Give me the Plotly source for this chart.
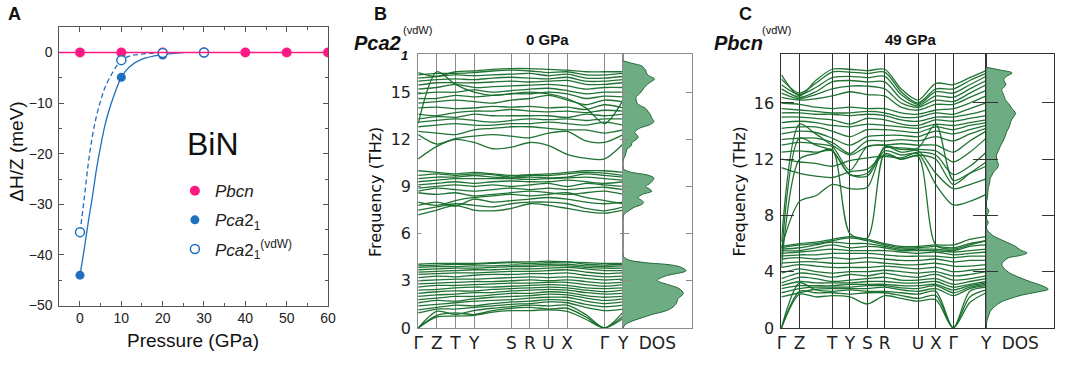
import plotly.graph_objects as go

W, H = 1065, 370

# ---------------- Panel A data ----------------
pressure_pbcn = [0, 10, 20, 30, 40, 50, 60]
dh_pbcn = [0, 0, 0, 0, 0, 0, 0]
pressure_pca = [0, 10, 20]
dh_pca = [-44.0, -4.9, -0.5]
pressure_vdw = [0, 10, 20, 30]
dh_vdw = [-35.5, -1.5, -0.1, 0.0]
fit_p_pca = [0, 1, 2, 3, 4, 5, 6, 7, 8, 10, 12, 15, 20, 25]
fit_dh_pca = [-44, -39, -33.5, -28.5, -23, -18.5, -14.5, -11.5, -9, -4.9, -2.8, -1.3, -0.4, 0]
fit_p_vdw = [0, 1, 2, 3, 4, 5, 6, 8, 10, 12, 15, 20]
fit_dh_vdw = [-35.5, -29, -22, -16.5, -12.5, -9.5, -7, -3.8, -1.5, -0.7, -0.3, 0]

# ---------------- Panel B data (Pca2_1 vdW, 0 GPa) ----------------
kB = [0, 1, 2, 3, 4, 5, 6, 7, 8, 9, 10, 11]
kB_tick_pos = [0, 1, 2, 3, 5, 6, 7, 8, 10, 11]
kB_tick_txt = ["Γ", "Z", "T", "Y", "S", "R", "U", "X", "Γ", "Y"]
bands_B = [
    [0, 0.7, 0.75, 0.8, 1.0, 1.1, 1.1, 1.15, 1.05, 0.55, 0, 0.6],
    [0, 0.8, 0.95, 0.85, 1.1, 1.25, 1.3, 1.2, 1.25, 0.7, 0, 0.75],
    [0, 1.05, 0.85, 1.1, 1.25, 1.35, 1.45, 1.4, 1.45, 0.85, 0, 1.0],
    [0.95, 1.2, 1.2, 1.3, 1.4, 1.5, 1.55, 1.65, 1.6, 1.3, 1.1, 1.2],
    [1.15, 1.3, 1.45, 1.4, 1.55, 1.65, 1.7, 1.8, 1.75, 1.5, 1.35, 1.45],
    [1.4, 1.5, 1.6, 1.7, 1.75, 1.8, 1.9, 1.95, 1.95, 1.7, 1.55, 1.65],
    [1.6, 1.75, 1.7, 1.85, 1.95, 2.0, 2.05, 2.15, 2.1, 1.9, 1.75, 1.85],
    [1.8, 1.9, 2.0, 2.0, 2.1, 2.2, 2.2, 2.3, 2.25, 2.05, 1.95, 2.0],
    [2.0, 2.1, 2.15, 2.25, 2.25, 2.35, 2.4, 2.45, 2.4, 2.25, 2.15, 2.2],
    [2.2, 2.3, 2.35, 2.35, 2.45, 2.5, 2.55, 2.6, 2.55, 2.4, 2.3, 2.4],
    [2.4, 2.45, 2.55, 2.6, 2.6, 2.65, 2.7, 2.75, 2.7, 2.55, 2.5, 2.55],
    [2.6, 2.7, 2.7, 2.75, 2.8, 2.85, 2.85, 2.9, 2.9, 2.75, 2.65, 2.75],
    [2.8, 2.85, 2.9, 2.95, 2.95, 3.0, 3.05, 3.0, 3.05, 2.95, 2.85, 2.9],
    [3.0, 3.05, 3.1, 3.1, 3.15, 3.2, 3.25, 3.2, 3.25, 3.15, 3.05, 3.1],
    [3.2, 3.3, 3.25, 3.35, 3.4, 3.4, 3.45, 3.45, 3.5, 3.35, 3.25, 3.3],
    [3.4, 3.45, 3.5, 3.5, 3.55, 3.6, 3.6, 3.65, 3.7, 3.55, 3.45, 3.5],
    [3.55, 3.6, 3.65, 3.7, 3.7, 3.75, 3.75, 3.8, 3.85, 3.75, 3.65, 3.65],
    [3.7, 3.75, 3.8, 3.8, 3.85, 3.9, 3.9, 3.95, 3.95, 3.85, 3.8, 3.8],
    [3.85, 3.9, 3.9, 3.95, 3.95, 4.0, 4.0, 4.05, 4.05, 3.95, 3.9, 3.95],
    [3.95, 4.0, 4.05, 4.05, 4.1, 4.15, 4.1, 4.15, 4.2, 4.05, 4.0, 4.05],
    [4.05, 4.1, 4.1, 4.1, 4.15, 4.2, 4.2, 4.25, 4.2, 4.15, 4.1, 4.1],
    [7.2, 7.5, 7.8, 7.5, 7.45, 7.6, 7.9, 7.8, 7.6, 7.4, 7.3, 7.5],
    [7.5, 7.7, 7.9, 7.8, 7.7, 7.9, 8.0, 8.0, 7.9, 7.6, 7.45, 7.7],
    [7.8, 8.0, 7.75, 8.2, 8.0, 8.1, 8.2, 8.3, 8.2, 8.0, 7.9, 8.0],
    [8.0, 7.8, 8.1, 8.3, 8.4, 8.5, 8.4, 8.5, 8.6, 8.3, 8.1, 7.9],
    [8.6, 8.5, 8.6, 8.4, 8.5, 8.6, 8.7, 8.6, 8.5, 8.6, 8.7, 8.5],
    [8.7, 8.9, 8.8, 8.7, 8.8, 8.9, 8.8, 8.9, 8.8, 8.9, 8.95, 8.8],
    [8.9, 9.0, 9.1, 9.0, 9.1, 9.0, 9.1, 9.2, 9.0, 9.2, 9.1, 9.0],
    [9.1, 9.2, 9.3, 9.2, 9.3, 9.35, 9.3, 9.3, 9.4, 9.3, 9.2, 9.3],
    [9.3, 9.4, 9.5, 9.5, 9.5, 9.5, 9.45, 9.5, 9.55, 9.6, 9.5, 9.4],
    [9.5, 9.6, 9.6, 9.7, 9.6, 9.55, 9.6, 9.55, 9.6, 9.8, 9.7, 9.6],
    [9.7, 9.8, 9.7, 9.8, 9.75, 9.6, 9.7, 9.7, 9.8, 9.9, 9.85, 9.7],
    [10.0, 9.9, 9.8, 9.9, 9.8, 9.7, 9.75, 9.8, 9.9, 10.0, 10.0, 9.9],
    [10.75, 11.55, 12.0, 11.8, 11.4, 11.5, 11.8, 11.6, 11.05, 10.8, 10.75, 11.7],
    [12.3, 11.7, 12.05, 12.2, 12.3, 12.2, 12.1, 12.4, 12.5, 11.9, 11.8, 12.3],
    [12.5, 12.4, 12.3, 12.6, 12.7, 12.8, 12.8, 12.7, 12.6, 12.6, 12.4, 12.6],
    [12.8, 12.9, 13.0, 12.9, 12.9, 13.0, 13.0, 13.1, 13.0, 12.9, 13.1, 12.9],
    [13.1, 13.2, 13.3, 13.2, 13.1, 13.2, 13.3, 13.25, 13.3, 13.2, 13.3, 13.3],
    [13.3, 13.45, 13.4, 13.6, 13.5, 13.5, 13.5, 13.5, 13.4, 13.6, 13.5, 13.6],
    [13.6, 13.5, 13.7, 13.8, 13.8, 13.9, 13.8, 13.75, 13.8, 13.7, 13.85, 13.8],
    [14.0, 14.05, 13.95, 14.0, 14.1, 14.05, 14.1, 14.0, 14.05, 13.9, 14.2, 14.0],
    [14.3, 14.4, 14.5, 14.4, 14.3, 14.5, 14.6, 14.8, 14.5, 14.2, 14.5, 14.4],
    [14.6, 14.6, 14.8, 14.7, 14.8, 14.9, 14.9, 15.0, 14.9, 14.6, 14.75, 14.7],
    [14.9, 15.0, 15.0, 15.15, 15.0, 15.1, 15.2, 15.25, 15.1, 14.9, 15.0, 15.0],
    [15.2, 15.3, 15.5, 15.3, 15.35, 15.4, 15.45, 15.5, 15.4, 15.2, 15.3, 15.3],
    [15.45, 15.6, 15.6, 15.6, 15.65, 15.7, 15.65, 15.7, 15.75, 15.5, 15.5, 15.6],
    [15.7, 15.8, 15.85, 15.8, 15.9, 15.95, 15.9, 15.85, 15.95, 15.7, 15.7, 15.8],
    [15.9, 16.0, 16.1, 16.05, 16.1, 16.15, 16.2, 16.05, 16.15, 15.9, 15.9, 16.0],
    [16.1, 16.2, 16.2, 16.25, 16.35, 16.4, 16.35, 16.25, 16.3, 16.1, 16.1, 16.2],
    [16.25, 16.0, 16.3, 16.35, 16.45, 16.5, 16.5, 16.45, 16.4, 16.3, 16.3, 16.3],
    [13.0, 16.3, 15.5, 15.0, 14.8, 14.9, 15.0, 14.9, 14.6, 14.0, 13.0, 14.5],
]
dosB_freq = [0, 0.2, 0.43, 0.65, 0.85, 1.05, 1.26, 1.57, 1.85, 2.19,
             2.5, 2.75, 3.02, 3.3, 3.64, 3.85, 4.0, 4.15, 4.3, 4.45,
             4.6, 7.1, 7.25, 7.45, 7.67, 7.85, 7.98, 8.15, 8.29, 8.49,
             8.7, 8.85, 9.0, 9.22, 9.53, 9.7, 9.94, 10.15, 10.7, 10.85,
             11.1, 11.39, 11.6, 11.8, 11.95, 12.11, 12.3, 12.42, 12.6, 12.73,
             12.95, 13.14, 13.35, 13.56, 13.8, 13.97, 14.15, 14.28, 14.5, 14.69,
             14.9, 15.11, 15.3, 15.52, 15.7, 15.83, 16.0, 16.14, 16.39, 16.55,
             16.66, 16.85, 17.0]
dosB_val = [0, 0.03, 0.13, 0.28, 0.42, 0.6, 0.71, 0.78, 0.8, 0.88,
            0.82, 0.66, 0.5, 0.62, 0.92, 0.85, 0.71, 0.33, 0.1, 0.03,
            0, 0, 0.02, 0.08, 0.16, 0.27, 0.3, 0.26, 0.22, 0.28,
            0.42, 0.38, 0.33, 0.4, 0.45, 0.38, 0.09, 0, 0, 0.02,
            0.04, 0.06, 0.12, 0.13, 0.18, 0.22, 0.2, 0.17, 0.2, 0.25,
            0.4, 0.45, 0.42, 0.4, 0.36, 0.33, 0.25, 0.21, 0.19, 0.19,
            0.24, 0.28, 0.31, 0.36, 0.42, 0.46, 0.4, 0.35, 0.33, 0.3,
            0.28, 0.12, 0]

# ---------------- Panel C data (Pbcn vdW, 49 GPa) ----------------
kC = [0, 1.03, 1.95, 2.88, 3.89, 4.88, 5.87, 6.8, 7.76, 8.77, 9.76, 10.7, 11.63]
kC_tick_pos = [0, 1.03, 2.88, 3.89, 4.88, 5.87, 7.76, 8.77, 9.76, 11.63]
kC_tick_txt = ["Γ", "Z", "T", "Y", "S", "R", "U", "X", "Γ", "Y"]
bands_C = [
    [0, 2.4, 2.2, 2.3, 2.2, 1.7, 2.3, 2.1, 1.9, 2.0, 0, 1.8, 2.5],
    [0, 2.6, 2.5, 2.5, 2.4, 2.5, 2.5, 2.3, 2.1, 2.3, 0, 2.2, 2.7],
    [0, 3.2, 2.7, 2.6, 2.7, 2.6, 2.6, 2.5, 2.4, 2.6, 0, 2.6, 2.9],
    [2.2, 2.5, 2.75, 2.8, 2.8, 2.8, 2.9, 2.7, 2.6, 2.8, 2.3, 2.8, 3.0],
    [2.5, 2.8, 2.9, 2.9, 2.9, 3.0, 3.0, 2.85, 2.8, 3.0, 2.5, 2.9, 3.1],
    [2.8, 3.0, 3.0, 3.0, 3.1, 3.1, 3.1, 3.0, 3.0, 3.1, 2.7, 3.0, 3.2],
    [3.0, 3.3, 3.2, 3.2, 3.2, 3.3, 3.3, 3.2, 3.2, 3.3, 2.9, 3.1, 3.3],
    [3.2, 3.6, 3.5, 3.3, 3.4, 3.5, 3.6, 3.4, 3.4, 3.5, 3.1, 3.3, 3.5],
    [3.5, 3.9, 3.8, 3.6, 3.8, 3.7, 3.9, 3.7, 3.6, 3.8, 3.4, 3.5, 3.7],
    [3.9, 4.2, 4.0, 3.9, 4.0, 4.0, 4.1, 4.0, 3.9, 4.0, 3.7, 3.8, 4.0],
    [4.3, 4.5, 4.4, 4.3, 4.3, 4.3, 4.4, 4.3, 4.2, 4.3, 4.0, 4.1, 4.2],
    [4.6, 4.7, 4.7, 4.6, 4.6, 4.7, 4.6, 4.5, 4.5, 4.6, 4.4, 4.4, 4.5],
    [4.9, 5.0, 4.9, 5.0, 4.9, 5.0, 4.9, 4.8, 4.8, 4.9, 4.7, 4.8, 4.8],
    [5.1, 5.2, 5.2, 5.3, 5.3, 5.3, 5.2, 5.1, 5.1, 5.1, 5.0, 5.1, 5.1],
    [5.3, 5.4, 5.5, 5.6, 5.5, 5.5, 5.5, 5.4, 5.3, 5.4, 5.2, 5.3, 5.4],
    [5.5, 5.5, 5.7, 5.9, 5.7, 5.8, 5.7, 5.5, 5.5, 5.5, 5.4, 5.5, 5.6],
    [5.6, 5.7, 5.9, 6.1, 6.0, 6.0, 5.8, 5.6, 5.6, 5.6, 5.5, 5.8, 5.9],
    [5.7, 5.9, 6.0, 6.2, 6.4, 6.2, 5.9, 5.7, 5.7, 5.8, 5.7, 6.0, 6.2],
    [5.8, 6.0, 6.1, 6.3, 6.5, 6.3, 6.0, 5.8, 5.8, 5.9, 5.9, 6.3, 6.5],
    [4.3, 12.0, 12.4, 12.7, 6.7, 6.4, 12.4, 12.0, 12.2, 5.9, 5.6, 5.9, 6.2],
    [5.0, 13.5, 13.0, 12.6, 10.9, 10.8, 12.6, 12.3, 12.4, 10.2, 8.75, 9.0, 9.5],
    [5.7, 9.0, 9.4, 10.2, 9.9, 10.0, 12.9, 12.5, 12.6, 11.0, 9.9, 10.2, 10.6],
    [6.1, 14.5, 13.8, 13.0, 12.3, 12.9, 13.0, 12.7, 12.8, 14.5, 10.5, 11.0, 11.5],
    [18.0, 16.5, 17.6, 18.4, 18.4, 18.3, 18.4, 17.0, 16.2, 17.4, 17.3, 17.8, 18.3],
    [17.7, 16.7, 17.4, 18.2, 18.2, 18.1, 18.2, 16.8, 16.0, 17.0, 17.0, 17.6, 18.1],
    [17.3, 16.6, 17.1, 17.8, 17.9, 17.8, 17.9, 16.6, 15.9, 16.8, 16.7, 17.3, 17.9],
    [17.0, 16.4, 16.8, 17.5, 17.6, 17.5, 17.5, 16.3, 15.8, 16.5, 16.4, 17.0, 17.6],
    [16.7, 16.3, 16.6, 17.0, 17.2, 17.2, 17.0, 16.0, 15.7, 16.2, 16.1, 16.7, 17.3],
    [16.4, 16.2, 16.3, 16.5, 16.8, 16.6, 16.5, 15.7, 15.5, 15.9, 15.9, 16.4, 16.9],
    [16.0, 15.9, 15.7, 15.6, 15.7, 15.6, 15.6, 15.3, 15.2, 15.5, 15.6, 16.0, 16.5],
    [15.6, 15.5, 15.4, 15.3, 15.3, 15.4, 15.3, 15.0, 15.0, 15.3, 15.2, 15.6, 16.0],
    [15.3, 15.3, 15.2, 15.2, 15.1, 15.2, 15.1, 14.8, 14.7, 15.0, 15.0, 15.2, 15.5],
    [15.0, 15.0, 14.9, 14.8, 14.5, 14.9, 14.8, 14.5, 14.4, 14.8, 14.7, 14.9, 15.1],
    [14.6, 14.7, 14.6, 14.4, 14.3, 14.5, 14.4, 14.3, 14.2, 14.5, 14.4, 14.6, 14.8],
    [14.2, 14.3, 14.3, 14.0, 13.6, 14.1, 14.1, 14.0, 13.9, 14.3, 14.1, 14.4, 14.6],
    [13.8, 14.0, 13.9, 13.5, 13.0, 13.6, 13.7, 13.7, 13.6, 14.0, 13.8, 14.1, 14.4],
    [13.4, 13.5, 13.5, 13.2, 12.4, 13.3, 13.3, 13.4, 13.3, 13.6, 13.3, 13.8, 14.2],
    [13.0, 13.2, 13.1, 12.9, 11.2, 12.9, 13.0, 13.1, 13.0, 13.0, 12.5, 13.3, 14.0],
    [12.5, 12.6, 12.5, 12.6, 10.9, 11.0, 12.8, 12.8, 12.7, 12.6, 11.8, 12.5, 13.5],
    [12.0, 11.8, 11.7, 11.5, 11.9, 12.1, 12.2, 12.1, 12.5, 12.3, 10.9, 11.5, 12.5],
    [11.4, 11.0, 10.8, 10.7, 11.1, 11.3, 12.3, 12.0, 12.3, 12.0, 10.2, 11.0, 11.8],
]
dosC_freq = [0, 0.48, 0.9, 1.18, 1.5, 1.87, 2.1, 2.33, 2.55, 2.75,
             3.0, 3.25, 3.6, 3.95, 4.25, 4.52, 4.75, 4.99, 5.15, 5.33,
             5.55, 5.8, 6.05, 6.25, 6.5, 6.72, 6.95, 7.18, 7.35, 7.53,
             7.7, 7.87, 8.1, 8.33, 8.55, 8.8, 9.3, 9.95, 10.3, 10.64,
             10.9, 11.1, 11.35, 11.57, 11.9, 12.26, 12.6, 12.95, 13.3, 13.64,
             13.95, 14.22, 14.45, 14.68, 15.0, 15.26, 15.6, 15.95, 16.25, 16.53,
             16.75, 16.99, 17.15, 17.33, 17.5, 17.68, 17.9, 18.14, 18.35, 18.54]
dosC_val = [0, 0.01, 0.04, 0.06, 0.12, 0.23, 0.36, 0.52, 0.75, 0.91,
            0.82, 0.67, 0.48, 0.33, 0.26, 0.23, 0.26, 0.33, 0.5, 0.6,
            0.5, 0.43, 0.32, 0.23, 0.12, 0.06, 0.02, 0, 0.02, 0.03,
            0.01, 0, 0.02, 0.04, 0.01, 0, 0.02, 0.03, 0.05, 0.06,
            0.09, 0.11, 0.16, 0.18, 0.16, 0.15, 0.18, 0.21, 0.25, 0.28,
            0.3, 0.33, 0.35, 0.36, 0.4, 0.43, 0.38, 0.33, 0.28, 0.26,
            0.24, 0.23, 0.27, 0.29, 0.27, 0.26, 0.3, 0.38, 0.2, 0]

# ---------------- styles ----------------
PINK = "#fe1a84"
BLUE = "#1f6fbf"
BAND = "rgba(20,108,40,0.95)"
DOS_FILL = "rgb(110,172,132)"
DOS_LINE = "rgb(35,105,55)"
FA = "Liberation Sans, Arial, sans-serif"
FD = "DejaVu Sans, sans-serif"
FN = "Liberation Sans Narrow, Liberation Sans, sans-serif"


def dx(a, b):
    return [a / W, b / W]


def dy(top, bottom):
    return [1 - bottom / H, 1 - top / H]


fig = go.Figure()

# Panel A
fig.add_hline(y=0, line=dict(color=PINK, width=1.6), xref="x", yref="y")
fig.add_trace(go.Scatter(x=fit_p_pca, y=fit_dh_pca, mode="lines",
                         line=dict(color=BLUE, width=1.3, shape="spline"),
                         showlegend=False, hoverinfo="skip", xaxis="x", yaxis="y"))
fig.add_trace(go.Scatter(x=fit_p_vdw, y=fit_dh_vdw, mode="lines",
                         line=dict(color=BLUE, width=1.3, dash="5px,3px", shape="spline"),
                         showlegend=False, hoverinfo="skip", xaxis="x", yaxis="y"))
fig.add_trace(go.Scatter(x=pressure_pbcn, y=dh_pbcn, mode="markers",
                         marker=dict(color=PINK, size=10), legendgroup="a",
                         name="<i>Pbcn</i>", xaxis="x", yaxis="y"))
fig.add_trace(go.Scatter(x=pressure_pca, y=dh_pca, mode="markers",
                         marker=dict(color=BLUE, size=9), legendgroup="b",
                         name="<i>Pca</i>2<sub>1</sub>", xaxis="x", yaxis="y"))
fig.add_trace(go.Scatter(x=pressure_vdw, y=dh_vdw, mode="markers",
                         marker=dict(color="white", size=9, line=dict(color=BLUE, width=1.5)),
                         legendgroup="c",
                         name="<i>Pca</i>2<sub>1</sub><sup>(vdW)</sup>", xaxis="x", yaxis="y"))


def add_bands(kpos, bands, xa, ya):
    for b in bands:
        fig.add_trace(go.Scatter(x=kpos, y=b, mode="lines",
                                 line=dict(color=BAND, width=1.3, shape="spline", smoothing=0.8),
                                 showlegend=False, hoverinfo="skip", xaxis=xa, yaxis=ya))


add_bands(kB, bands_B, "x2", "y2")
fig.add_trace(go.Scatter(x=dosB_val, y=dosB_freq, mode="lines", fill="tozerox",
                         fillcolor=DOS_FILL, line=dict(color=DOS_LINE, width=1, shape="spline"),
                         showlegend=False, hoverinfo="skip", xaxis="x3", yaxis="y3"))
add_bands(kC, bands_C, "x4", "y4")
fig.add_trace(go.Scatter(x=dosC_val, y=dosC_freq, mode="lines", fill="tozerox",
                         fillcolor=DOS_FILL, line=dict(color=DOS_LINE, width=1, shape="spline"),
                         showlegend=False, hoverinfo="skip", xaxis="x5", yaxis="y5"))

axA = dict(showline=True, linecolor="#555", linewidth=1, mirror="ticks", ticks="inside",
           ticklen=5, tickcolor="#555", showgrid=False, zeroline=False,
           tickfont=dict(family=FA, size=14, color="#222"))
GB = "#8c8c8c"
GC = "#333333"
tfD = dict(family=FD, size=16, color="#222")

fig.update_layout(
    width=W, height=H, margin=dict(l=0, r=0, t=0, b=0),
    paper_bgcolor="white", plot_bgcolor="white", showlegend=True,
    legend=dict(x=172 / W, y=1 - 178 / H, xanchor="left", yanchor="top",
                bgcolor="rgba(0,0,0,0)", font=dict(family=FA, size=17, color="#222"),
                itemwidth=30, tracegroupgap=4),
    xaxis=dict(axA, domain=dx(55, 327), range=[-5, 60], tickvals=[0, 10, 20, 30, 40, 50, 60],
               minor=dict(ticks="inside", ticklen=3, dtick=5, tick0=0, tickcolor="#555"),
               anchor="y"),
    yaxis=dict(axA, domain=dy(28, 314), range=[-50, 5], tickvals=[-50, -40, -30, -20, -10, 0],
               minor=dict(ticks="inside", ticklen=3, dtick=5, tick0=0, tickcolor="#555"),
               anchor="x", ticklabelstandoff=3),
    xaxis2=dict(domain=dx(418.3, 625.7), range=[0, 11], tickvals=kB_tick_pos, ticktext=kB_tick_txt,
                showgrid=True, gridcolor=GB, gridwidth=1, ticks="", showline=True, linecolor=GB,
                mirror=True, zeroline=False, anchor="y2", tickfont=dict(family=FD, size=17, color="#222")),
    yaxis2=dict(domain=dy(56, 337), range=[0, 17.4], tickvals=[0, 3, 6, 9, 12, 15],
                ticks="inside", ticklen=3, tickcolor=GB, mirror="ticks", showline=True, linecolor=GB,
                showgrid=False, zeroline=False, anchor="x2", tickfont=tfD, ticklabelstandoff=3),
    xaxis3=dict(domain=dx(625.7, 695), range=[0, 1], tickvals=[0.5], ticktext=["DOS"],
                ticks="", showline=True, linecolor=GB, mirror=True, showgrid=False, zeroline=False,
                anchor="y3", tickfont=dict(family=FD, size=17, color="#222")),
    yaxis3=dict(domain=dy(56, 337), range=[0, 17.4], tickvals=[3, 6, 9, 12, 15], side="right",
                ticks="inside", ticklen=6, tickcolor=GB, mirror="ticks", showticklabels=False,
                showline=True, linecolor=GB, showgrid=False, zeroline=False, anchor="x3"),
    xaxis4=dict(domain=dx(786, 993.3), range=[0, 11.63], tickvals=kC_tick_pos, ticktext=kC_tick_txt,
                showgrid=True, gridcolor=GC, gridwidth=1.2, ticks="", showline=True, linecolor=GC,
                mirror=True, zeroline=False, anchor="y4", tickfont=dict(family=FD, size=17, color="#222")),
    yaxis4=dict(domain=dy(56, 337), range=[0, 19.45], tickvals=[0, 4, 8, 12, 16],
                ticks="inside", ticklen=13, tickcolor=GC, mirror="ticks", showline=True, linecolor=GC,
                showgrid=False, zeroline=False, anchor="x4", tickfont=tfD, ticklabelstandoff=3),
    xaxis5=dict(domain=dx(993.3, 1062.3), range=[0, 1], tickvals=[0.5], ticktext=["DOS"],
                ticks="", showline=True, linecolor=GC, mirror=True, showgrid=False, zeroline=False,
                anchor="y5", tickfont=dict(family=FD, size=17, color="#222")),
    yaxis5=dict(domain=dy(56, 337), range=[0, 19.45], tickvals=[4, 8, 12, 16], side="right",
                ticks="inside", ticklen=12, tickcolor=GC, mirror="ticks", showticklabels=False,
                showline=True, linecolor=GC, showgrid=False, zeroline=False, anchor="x5"),
)


def ann(text, xp, yp, size, family, color="#111", xanchor="center", yanchor="middle", angle=0):
    fig.add_annotation(text=text, x=xp / W, y=1 - yp / H, xref="paper", yref="paper",
                       showarrow=False, xanchor=xanchor, yanchor=yanchor, textangle=angle,
                       font=dict(size=size, family=family, color=color))


# panel letters
ann("<b>A</b>", 10, 14, 18, FA)
ann("<b>B</b>", 380, 14, 18, FA)
ann("<b>C</b>", 750, 14, 18, FA)
# panel A texts
ann("ΔH/Z (meV)", 12, 156, 19, FA, angle=-90)
ann("Pressure (GPa)", 190, 350, 19, FA)
ann("BiN", 211, 148, 32, FA)
# panel B/C titles
ann("Frequency (THz)", 375, 197, 16, FD, angle=-90)
ann("Frequency (THz)", 744, 197, 16, FD, angle=-90)
ann("<b>0 GPa</b>", 549, 41, 15, FN)
ann("<b>49 GPa</b>", 917, 41, 15, FN)
ann("<b><i>Pca2</i></b>", 351, 44, 20, FN, xanchor="left")
ann("<b><i>1</i></b>", 399, 57, 13, FN, xanchor="left")
ann("(vdW)", 401, 31, 11, FA, xanchor="left")
ann("<b><i>Pbcn</i></b>", 716, 44, 20, FN, xanchor="left")
ann("(vdW)", 764, 31, 11, FA, xanchor="left")

fig.write_html("out.html", config={"displayModeBar": False},
               post_script="document.body.style.margin='0';document.body.style.padding='0';")
